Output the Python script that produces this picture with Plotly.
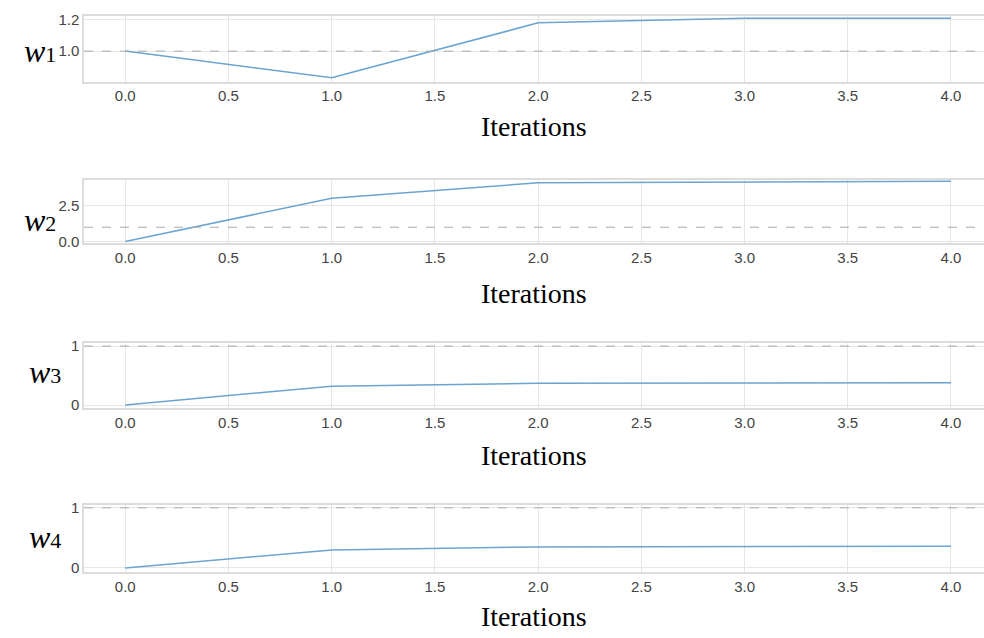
import plotly.graph_objects as go

iterations = [0, 1, 2, 3, 4]
w1 = [1.0, 0.83, 1.18, 1.21, 1.21]
w2 = [0.0, 3.03, 4.12, 4.2, 4.23]
w3 = [0.0, 0.32, 0.37, 0.38, 0.38]
w4 = [0.0, 0.30, 0.35, 0.36, 0.36]
series = [w1, w2, w3, w4]
labels = ["1", "2", "3", "4"]
ref_value = 1.0

y_ranges = [[0.806, 1.225], [-0.14, 4.34], [-0.055, 1.06], [-0.07, 1.04]]
y_ticks = [[1.0, 1.2], [0.0, 2.5], [0, 1], [0, 1]]
y_ticktext = [["1.0", "1.2"], ["0.0", "2.5"], ["0", "1"], ["0", "1"]]
x_ticks = [0.0, 0.5, 1.0, 1.5, 2.0, 2.5, 3.0, 3.5, 4.0]
x_ticktext = ["0.0", "0.5", "1.0", "1.5", "2.0", "2.5", "3.0", "3.5", "4.0"]

W, H = 984, 638
# pixel extents of each panel (top, bottom)
panels = [(10, 77), (177, 242), (343, 410), (509, 577)]
label_y = [46, 218, 373, 541]
label_x = [40, 40, 45, 45]
xtitle_y = [123, 293, 458, 622]
x_left = 84

fig = go.Figure()
layout = dict(
    width=W, height=H, margin=dict(l=0, r=0, t=0, b=0),
    paper_bgcolor="white", plot_bgcolor="white", showlegend=False,
    annotations=[], shapes=[],
)
line_col = "#6aa4d2"
grid_col = "#e6e6e6"
tick_font = dict(family="Liberation Sans", size=15, color="#444")
for i, vals in enumerate(series):
    n = "" if i == 0 else str(i + 1)
    top, bot = panels[i]
    fig.add_trace(go.Scatter(x=iterations, y=vals, mode="lines",
                             line=dict(color=line_col, width=1.5),
                             xaxis="x" + n, yaxis="y" + n))
    layout["xaxis" + n] = dict(
        domain=[x_left / W, 1], range=[-0.2, 4.16], anchor="y" + n,
        tickvals=x_ticks, ticktext=x_ticktext, showgrid=True, gridcolor=grid_col,
        gridwidth=1, zeroline=False, showline=True, linecolor="#dcdcdc", linewidth=1.5,
        mirror=True, ticks="", tickfont=tick_font,
    )
    layout["yaxis" + n] = dict(
        domain=[1 - bot / H, 1 - top / H], range=y_ranges[i], anchor="x" + n,
        tickvals=y_ticks[i], ticktext=y_ticktext[i], showgrid=True, gridcolor=grid_col,
        gridwidth=1, zeroline=False, showline=True, linecolor="#dcdcdc", linewidth=1.5,
        mirror=False, ticks="", tickfont=tick_font,
    )
    layout["shapes"].append(dict(
        type="line", xref="x" + n + " domain", yref="y" + n, x0=0, x1=1,
        y0=ref_value, y1=ref_value, line=dict(color="#aaaaaa", width=1, dash="dash"),
    ))
    layout["annotations"].append(dict(
        text="Iterations", xref="paper", yref="paper", x=(x_left + W) / 2 / W,
        y=1 - xtitle_y[i] / H, xanchor="center", yanchor="middle", showarrow=False,
        font=dict(family="Liberation Serif", size=28, color="black"),
    ))
    layout["annotations"].append(dict(
        text="<i>w</i><span style='font-size:22px'>" + labels[i] + "</span>",
        xref="paper", yref="paper", x=label_x[i] / W, y=1 - label_y[i] / H,
        xanchor="center", yanchor="middle", showarrow=False,
        font=dict(family="Liberation Serif", size=32, color="black"),
    ))

fig.update_layout(**layout)
fig.write_html("out.html", config={"displayModeBar": False},
               post_script="document.body.style.margin='0';document.body.style.overflow='hidden';")
